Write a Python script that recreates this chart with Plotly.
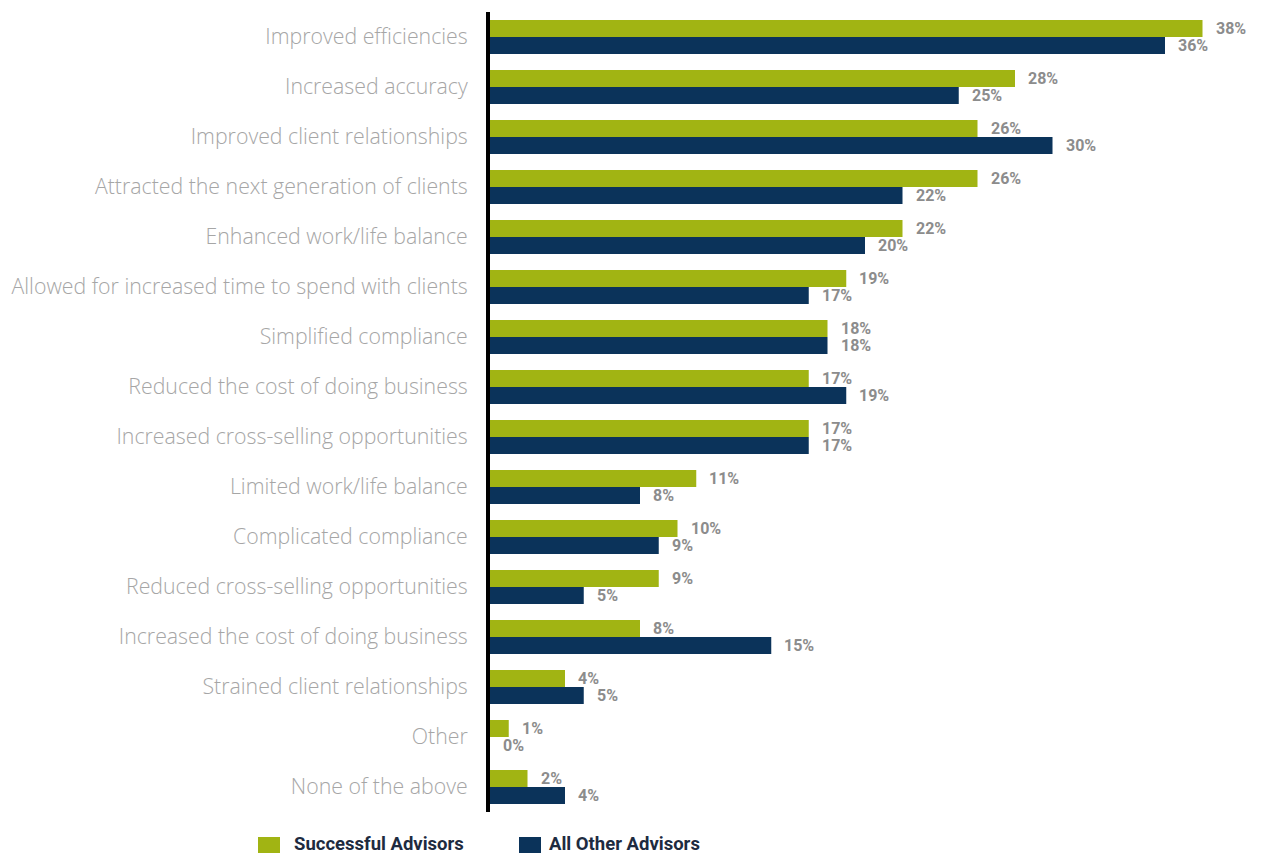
import plotly.graph_objects as go

# Survey results: effect of technology on advisors' practices (percent of respondents)
categories = [
    "Improved efficiencies",
    "Increased accuracy",
    "Improved client relationships",
    "Attracted the next generation of clients",
    "Enhanced work/life balance",
    "Allowed for increased time to spend with clients",
    "Simplified compliance",
    "Reduced the cost of doing business",
    "Increased cross-selling opportunities",
    "Limited work/life balance",
    "Complicated compliance",
    "Reduced cross-selling opportunities",
    "Increased the cost of doing business",
    "Strained client relationships",
    "Other",
    "None of the above",
]
successful = [38, 28, 26, 26, 22, 19, 18, 17, 17, 11, 10, 9, 8, 4, 1, 2]
all_other = [36, 25, 30, 22, 20, 17, 18, 19, 17, 8, 9, 5, 15, 5, 0, 4]

series_names = ["Successful Advisors", "All Other Advisors"]
GREEN = "#A1B413"
NAVY = "#0B335A"

# page geometry (px)
W, H = 1264, 854
ML, MR, MT, MB = 490, 24, 12, 42
PW, PH = W - ML - MR, H - MT - MB
BARGAP = 0.32
ROW_PX = PH / len(categories)
BAR_PX = ROW_PX * (1 - BARGAP) / 2

fig = go.Figure()
for name, vals, color in [(series_names[0], successful, GREEN),
                          (series_names[1], all_other, NAVY)]:
    fig.add_trace(go.Bar(
        y=categories, x=vals, name=name, orientation="h",
        marker=dict(color=color, line=dict(width=0)),
        showlegend=False, hoverinfo="x+y",
    ))

# value labels beside each bar
label_font = dict(family="Roboto", size=16, color="#8C8C8C", weight="bold")
for vals, shift in [(successful, BAR_PX / 2), (all_other, -BAR_PX / 2)]:
    for cat, v in zip(categories, vals):
        fig.add_annotation(
            x=v, y=cat, text=f"{v}%", showarrow=False,
            xanchor="left", yanchor="middle", xshift=11, yshift=shift,
            font=label_font,
        )

# legend drawn beneath the plot
def px_x(px):
    return (px - ML) / PW

def px_y(py):
    return (MT + PH - py) / PH

legend_items = [(series_names[0], GREEN, 258, 292), (series_names[1], NAVY, 519, 547)]
for name, color, x0, xt in legend_items:
    fig.add_shape(type="rect", xref="paper", yref="paper",
                  x0=px_x(x0), x1=px_x(x0 + 22), y0=px_y(853), y1=px_y(837),
                  fillcolor=color, line=dict(width=0))
    fig.add_annotation(xref="paper", yref="paper", x=px_x(xt), y=px_y(844),
                       text=name, showarrow=False, xanchor="left", yanchor="middle",
                       font=dict(family="Roboto", size=18.5, color="#1E2B40", weight="bold"))

fig.update_layout(
    width=W, height=H,
    margin=dict(l=ML, r=MR, t=MT, b=MB, pad=0, autoexpand=False),
    barmode="group", bargap=BARGAP, bargroupgap=0,
    plot_bgcolor="white", paper_bgcolor="white",
    showlegend=False,
    xaxis=dict(range=[0, 40], visible=False, showgrid=False, zeroline=False,
               automargin=False),
    yaxis=dict(
        autorange="reversed", showgrid=False, zeroline=False, automargin=False,
        showline=True, linecolor="black", linewidth=4,
        ticks="", ticklabelstandoff=14,
        tickfont=dict(family="Open Sans", size=21.3, color="#A6A6A6", weight=300),
    ),
)

fig.write_html("out.html")
